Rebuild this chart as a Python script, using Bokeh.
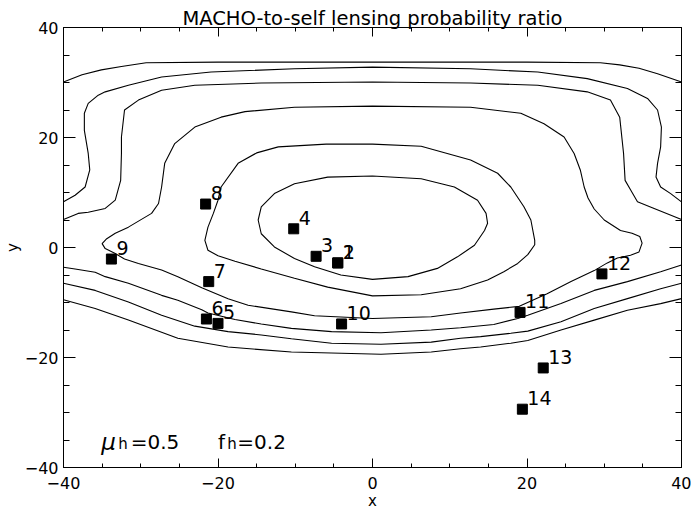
import math
from bokeh.plotting import figure
from bokeh.models import Range1d, LinearAxis, FixedTicker, Label, ColumnDataSource, CustomJSTickFormatter
from bokeh.core.properties import value
from bokeh.embed import file_html
from bokeh.resources import INLINE

FONT = "DejaVu Sans"

# ---- data: labelled points ----
point_ids = ["1", "2", "3", "4", "5", "6", "7", "8", "9", "10", "11", "12", "13", "14"]
point_x = [-4.5, -4.5, -7.3, -10.2, -20.0, -21.5, -21.2, -21.6, -33.8, -4.0, 19.1, 29.7, 22.1, 19.4]
point_y = [-2.8, -2.8, -1.6, 3.4, -13.8, -13.0, -6.2, 7.9, -2.1, -13.9, -11.8, -4.8, -21.9, -29.4]

# ---- data: contour lines ----
contour_a_x = [-40, -37.6, -35.1, -32.5, -29.3, -20, 0, 20, 29.5, 32.0, 34.5, 36.9, 40]
contour_a_y = [30.1, 31.4, 32.3, 32.9, 33.6, 33.7, 33.7, 33.7, 33.6, 33.2, 32.6, 31.6, 30.1]

contour_b_x = [-40, -38.5, -37.2, -36.6, -36.8, -37.3, -37.3, -36.8, -35.5, -34.6, -31.6, -27.3, -20.9,
               -10.1, 0, 12.7, 21.4, 27.8, 33.0, 35.6, 36.9, 37.4, 37.3, 36.9, 36.7, 37.3, 38.6, 40]
contour_b_y = [8.3, 9.5, 11.0, 14.1, 17.1, 21.3, 24.4, 26.2, 27.7, 28.3, 29.5, 31.0, 31.9,
               32.5, 32.8, 32.5, 31.9, 30.7, 28.9, 27.1, 25.0, 21.9, 18.3, 15.3, 12.8, 11.0, 9.8, 8.3]

contour_c_x = [-40, -38.1, -36.8, -34.6, -33.3, -32.6, -32.5, -32.5, -32.1, -30.3, -27.3, -23.0, -14.4,
               0, 12.7, 21.4, 27.8, 30.8, 32.0, 32.5, 32.7, 33.4, 34.3, 36.3, 40]
contour_c_y = [5.1, 6.2, 6.4, 7.1, 8.6, 12.2, 17.1, 20.1, 25.0, 26.8, 28.6, 29.5, 29.9,
               30.1, 29.9, 29.5, 28.3, 26.8, 23.7, 17.1, 12.2, 10.5, 8.3, 7.2, 5.1]

contour_d_x = [0, -10.1, -16.5, -19.6, -23.0, -25.6, -26.9, -27.3, -27.7, -28.6, -31.6, -33.3, -34.4,
               -35.0, -34.6, -33.3, -32.1, -30.3, -27.3, -25.2, -22.1, -18.7, -16.1, -10.5, -7.5, 0,
               7.6, 11.4, 15.7, 19.0, 22.6, 25.7, 28.7, 30.4, 31.7, 33.4, 34.5, 34.9, 34.6, 33.6,
               32.1, 30.0, 28.7, 27.9, 27.4, 26.9, 26.1, 24.8, 22.2, 19.2, 12.7, 0]
contour_d_y = [25.7, 25.5, 24.7, 23.7, 21.9, 18.9, 15.3, 11.0, 8.0, 6.2, 3.7, 2.6, 1.6,
               0.7, -0.2, -1.1, -2.1, -2.9, -4.1, -5.3, -7.3, -9.3, -10.5, -11.7, -12.4, -12.9,
               -12.6, -11.9, -11.2, -10.7, -8.4, -6.2, -4.2, -2.8, -1.9, -1.4, -0.8, 0.8, 2.0, 2.6,
               3.1, 5.0, 7.0, 9.0, 11.0, 14.1, 17.1, 20.1, 22.5, 24.4, 25.5, 25.7]

contour_e_x = [0, -6.0, -12.2, -15.0, -17.4, -19.6, -20.0, -20.6, -21.3, -21.7, -21.3, -20.0, -17.8,
               -14.4, -10.1, -5.8, 0, 6.3, 11.4, 14.9, 17.0, 18.8, 20.1, 21.0, 21.0, 20.5, 19.6,
               17.9, 16.2, 12.7, 6.3, 0]
contour_e_y = [18.8, 18.8, 18.3, 17.2, 15.3, 11.0, 8.6, 6.2, 3.7, 1.3, -0.5, -1.5, -2.5,
               -3.9, -5.6, -7.2, -8.8, -8.6, -7.5, -5.9, -4.4, -2.9, -1.3, 0.5, 1.3, 5.0, 7.4,
               11.0, 13.5, 15.9, 18.4, 18.8]

contour_f_x = [0, -5.8, -10.1, -12.7, -14.4, -14.8, -14.4, -12.7, -10.1, -7.5, -4.1, 0, 4.6, 8.4,
               11.0, 13.2, 14.5, 14.9, 14.7, 13.6, 10.6, 6.3, 0]
contour_f_y = [13.0, 12.8, 11.6, 9.8, 7.4, 5.0, 2.5, 0.1, -2.0, -3.5, -5.0, -5.8, -5.3, -3.8,
               -1.7, 0.4, 3.1, 4.4, 6.2, 8.6, 11.0, 12.5, 13.0]

contour_g_x = [-40, -38.5, -35.9, -34.6, -31.6, -27.3, -25.2, -22.1, -21.3, -17.8, -14.4, -10.5,
               -5.3, 1.1, 7.6, 11.4, 15.7, 18.8, 20.1, 24.4, 28.7, 33.0, 37.3, 40]
contour_g_y = [-3.6, -3.9, -4.5, -5.3, -6.5, -8.7, -9.6, -11.3, -11.9, -13.1, -13.9, -14.7,
               -15.3, -15.5, -15.0, -14.6, -14.0, -12.9, -12.3, -10.2, -7.8, -6.2, -4.4, -3.2]

contour_h_x = [-40, -35.9, -31.6, -27.3, -23.0, -18.7, -14.4, -10.5, -5.3, 1.1, 7.6, 11.4, 14.0,
               17.9, 20.1, 24.4, 28.7, 33.0, 37.3, 40]
contour_h_y = [-6.5, -7.8, -9.9, -12.3, -14.3, -15.3, -15.9, -16.6, -17.4, -17.6, -17.2, -16.5, -16.2,
               -15.6, -15.2, -13.5, -11.1, -9.3, -7.5, -6.5]

contour_i_x = [-40, -35.9, -31.6, -25.2, -18.7, -10.5, 1.1, 7.6, 11.4, 14.0, 17.9, 20.1, 24.4,
               28.7, 33.0, 37.3, 40]
contour_i_y = [-9.5, -11.1, -13.2, -16.5, -18.1, -19.0, -19.4, -19.0, -18.4, -18.1, -17.4, -16.9, -15.0,
               -13.2, -11.4, -10.2, -9.3]

# ---- axis ticks ----
major_ticks = [-40, -20, 0, 20, 40]
minor_ticks = [-35, -30, -25, -15, -10, -5, 5, 10, 15, 25, 30, 35]
tick_labels = {-40: "\u221240", -20: "\u221220", 0: "0", 20: "20", 40: "40"}

p = figure(width=691, height=514, x_range=Range1d(-40, 40), y_range=Range1d(-40, 40),
           output_backend="svg", toolbar_location=None, title=None,
           x_axis_type=None, y_axis_type=None,
           min_border_left=62, min_border_right=10, min_border_top=27, min_border_bottom=47)
p.xgrid.visible = False
p.ygrid.visible = False
p.outline_line_color = "black"
p.outline_line_width = 1
p.background_fill_color = "white"
p.border_fill_color = "white"


def make_axis(is_x, labelled, axis_label=None, label_standoff=0, label_size="15px"):
    ticker = FixedTicker(ticks=major_ticks, minor_ticks=minor_ticks)
    ax = LinearAxis(ticker=ticker)
    ax.major_tick_out = 0
    ax.minor_tick_out = 0
    if is_x:
        ax.major_tick_in = 9
        ax.minor_tick_in = 4
    else:
        ax.major_tick_in = 12
        ax.minor_tick_in = 6
    ax.axis_line_color = "black"
    ax.major_tick_line_color = "black"
    ax.minor_tick_line_color = "black"
    if labelled:
        ax.major_label_text_font = FONT
        ax.major_label_text_font_size = "16px"
        ax.major_label_text_color = "black"
        ax.major_label_overrides = dict(tick_labels)
        ax.major_label_standoff = 9 if is_x else 5
    else:
        ax.formatter = CustomJSTickFormatter(code="return ''")
        ax.major_label_standoff = 0
        ax.major_label_text_font_size = "1px"
    if axis_label is not None:
        ax.axis_label = axis_label
        ax.axis_label_standoff = label_standoff
        ax.axis_label_text_font = FONT
        ax.axis_label_text_font_size = label_size
        ax.axis_label_text_font_style = "normal"
        ax.axis_label_text_color = "black"
    return ax


p.add_layout(make_axis(True, True, "x", 0, "15px"), "below")
p.add_layout(make_axis(False, True, "y", 0, "15px"), "left")
p.add_layout(make_axis(True, False, "MACHO-to-self lensing probability ratio", -2, "19.5px"), "above")
p.add_layout(make_axis(False, False), "right")

# contours
contours = [
    (contour_a_x, contour_a_y), (contour_b_x, contour_b_y), (contour_c_x, contour_c_y),
    (contour_d_x, contour_d_y), (contour_e_x, contour_e_y), (contour_f_x, contour_f_y),
    (contour_g_x, contour_g_y), (contour_h_x, contour_h_y), (contour_i_x, contour_i_y),
]
for cx, cy in contours:
    p.line(cx, cy, line_color="black", line_width=1.1)

# points
src = ColumnDataSource(dict(x=point_x, y=point_y, t=point_ids))
p.scatter("x", "y", source=src, marker="square", size=10, fill_color="black", line_color="black")
p.text("x", "y", text="t", source=src, x_offset=5, y_offset=-11,
       text_font=value(FONT), text_font_size="19px", text_color="black",
       text_baseline="alphabetic", text_align="left")


def lab(**kw):
    base = dict(text_font=FONT, text_color="black")
    base.update(kw)
    p.add_layout(Label(**base))


# mu_h / f_h annotation
lab(x=-35.1, y=-35.3, text="\u03bc", text_font_size="23px", text_font_style="italic",
    text_baseline="alphabetic")
lab(x=-32.9, y=-35.3, y_offset=-2, text="h", text_font_size="15px", text_baseline="alphabetic")
lab(x=-31.3, y=-35.3, text="=0.5", text_font_size="20px", text_baseline="alphabetic")
lab(x=-20.0, y=-35.3, text="f", text_font_size="20px", text_baseline="alphabetic")
lab(x=-18.8, y=-35.3, y_offset=-2, text="h", text_font_size="15px", text_baseline="alphabetic")
lab(x=-17.5, y=-35.3, text="=0.2", text_font_size="20px", text_baseline="alphabetic")

open("out.html", "w").write(file_html(p, INLINE))
